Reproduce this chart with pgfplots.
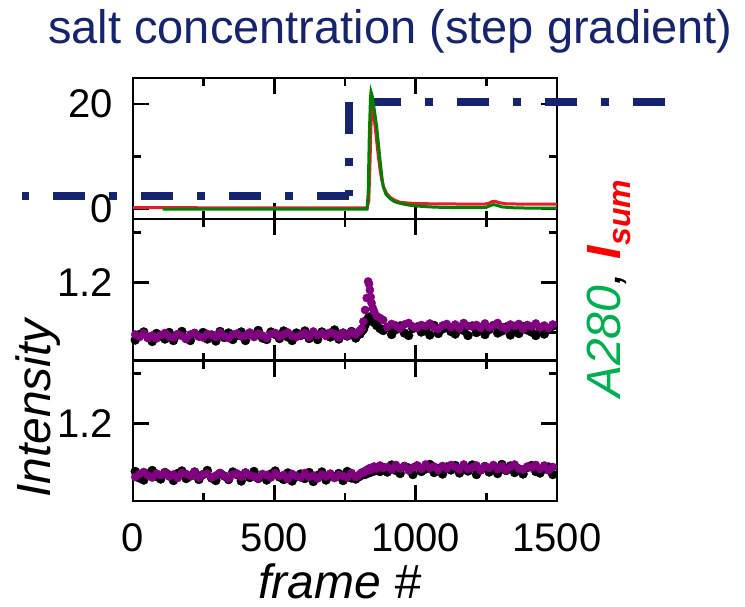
\documentclass[border=0pt]{standalone}
\usepackage{fontspec}
\setmainfont{Liberation Sans}
\usepackage{pgfplots}
\pgfplotsset{compat=1.18}
\usepackage{pgfplotstable}

\definecolor{salt}{RGB}{22,36,112}
\definecolor{sumred}{RGB}{255,0,0}
\definecolor{linered}{RGB}{228,32,38}
\definecolor{linegreen}{RGB}{0,128,0}
\definecolor{labgreen}{RGB}{0,176,80}
\definecolor{dotpurple}{RGB}{128,0,128}

% frame, panel 2 (purple, black), panel 3 (purple, black)
\pgfplotstableread{
x p2p p2b p3p p3b
8 1.096 1.085 1.093 1.104
23 1.091 1.096 1.099 1.091
38 1.098 1.101 1.103 1.087
53 1.089 1.090 1.096 1.099
68 1.094 1.082 1.092 1.106
83 1.088 1.098 1.100 1.094
98 1.095 1.093 1.097 1.089
113 1.099 1.087 1.102 1.102
128 1.092 1.100 1.094 1.097
143 1.090 1.084 1.098 1.086
158 1.097 1.095 1.091 1.100
173 1.093 1.102 1.101 1.105
188 1.087 1.088 1.099 1.090
203 1.096 1.084 1.095 1.095
218 1.099 1.098 1.103 1.103
233 1.092 1.093 1.092 1.088
248 1.090 1.100 1.098 1.098
263 1.097 1.087 1.100 1.106
278 1.095 1.095 1.092 1.091
293 1.091 1.083 1.096 1.086
308 1.100 1.102 1.101 1.100
323 1.093 1.090 1.095 1.095
338 1.089 1.099 1.090 1.088
353 1.096 1.086 1.098 1.103
368 1.098 1.094 1.100 1.098
383 1.092 1.101 1.093 1.085
398 1.094 1.084 1.102 1.101
413 1.100 1.098 1.096 1.092
428 1.091 1.093 1.094 1.104
443 1.098 1.104 1.091 1.090
458 1.094 1.089 1.099 1.096
473 1.089 1.086 1.097 1.087
488 1.097 1.101 1.092 1.099
503 1.099 1.096 1.101 1.105
518 1.092 1.088 1.095 1.093
533 1.096 1.103 1.097 1.088
548 1.100 1.091 1.089 1.101
563 1.093 1.084 1.099 1.085
578 1.091 1.099 1.095 1.094
593 1.095 1.094 1.092 1.099
608 1.099 1.103 1.101 1.090
623 1.091 1.088 1.093 1.102
638 1.102 1.098 1.096 1.084
653 1.095 1.086 1.090 1.096
668 1.098 1.101 1.098 1.103
683 1.093 1.096 1.094 1.087
698 1.100 1.091 1.100 1.097
713 1.097 1.105 1.091 1.093
728 1.090 1.087 1.097 1.100
743 1.099 1.099 1.095 1.086
758 1.094 1.093 1.092 1.104
773 1.101 1.102 1.101 1.091
788 1.096 1.089 1.093 1.089
797 1.101 1.098 1.096 1.093
803 1.104 1.097 1.099 1.095
809 1.108 1.103 1.102 1.097
815 1.122 1.106 1.101 1.099
821 1.145 1.115 1.105 1.098
827 1.169 1.122 1.107 1.103
832 1.202 1.128 1.106 1.101
835 1.197 1.130 1.110 1.104
838 1.185 1.131 1.109 1.102
841 1.171 1.130 1.111 1.106
844 1.159 1.128 1.108 1.104
848 1.149 1.124 1.112 1.107
853 1.142 1.120 1.114 1.105
862 1.133 1.114 1.110 1.110
874 1.129 1.108 1.116 1.104
885 1.125 1.104 1.111 1.112
900 1.111 1.110 1.113 1.103
915 1.117 1.096 1.108 1.117
930 1.114 1.106 1.117 1.106
945 1.108 1.113 1.110 1.100
960 1.116 1.099 1.115 1.114
975 1.119 1.094 1.106 1.111
990 1.112 1.108 1.112 1.098
1005 1.109 1.111 1.116 1.115
1020 1.115 1.101 1.109 1.104
1035 1.113 1.105 1.118 1.109
1050 1.118 1.095 1.111 1.118
1065 1.110 1.114 1.114 1.102
1080 1.107 1.098 1.107 1.110
1095 1.114 1.107 1.115 1.099
1110 1.117 1.112 1.110 1.113
1125 1.111 1.102 1.117 1.107
1140 1.116 1.097 1.113 1.116
1155 1.108 1.109 1.108 1.101
1170 1.119 1.104 1.118 1.112
1185 1.113 1.094 1.109 1.105
1200 1.112 1.113 1.112 1.117
1215 1.115 1.100 1.116 1.098
1230 1.109 1.110 1.106 1.108
1245 1.118 1.096 1.114 1.114
1260 1.110 1.106 1.111 1.103
1275 1.114 1.114 1.117 1.111
1290 1.119 1.099 1.109 1.100
1305 1.111 1.103 1.115 1.118
1320 1.108 1.111 1.107 1.106
1335 1.116 1.095 1.113 1.115
1350 1.113 1.108 1.118 1.102
1365 1.117 1.098 1.110 1.109
1380 1.107 1.112 1.108 1.099
1395 1.115 1.105 1.114 1.112
1410 1.112 1.101 1.112 1.116
1425 1.118 1.094 1.117 1.104
1440 1.110 1.109 1.109 1.101
1455 1.114 1.097 1.116 1.110
1470 1.109 1.107 1.106 1.113
1485 1.116 1.113 1.113 1.098
}\scatterdata

\pgfplotsset{
  panel/.style={
    x=0.282667pt, anchor=south west,
    xmin=0, xmax=1500,
    axis line style={line width=2.7pt},
    every tick/.style={line width=2.7pt, black},
    major tick length=16pt, minor tick length=8pt,
    tick align=inside,
    xtick={0,500,1000,1500}, minor xtick={250,750,1250},
    xticklabels={},
    tick label style={font=\fontsize{40}{48}\selectfont},
    yticklabel style={anchor=east, inner sep=0pt, xshift=-20pt},
    xticklabel style={anchor=north, inner sep=0pt, yshift=-22pt},
  },
  dotsblack/.style={only marks, mark=*, mark size=4.5pt,
    mark options={draw=black, fill=black}},
  dotspurple/.style={only marks, mark=*, mark size=4.1pt,
    mark options={draw=dotpurple, fill=dotpurple}},
  saltline/.style={salt, line width=7.7pt, line cap=butt,
    dash pattern=on 32pt off 24pt on 8pt off 24pt},
}

\begin{document}
\begin{tikzpicture}
\useasboundingbox (0pt,0pt) rectangle (745pt,-607pt);

% top: A280 and I_sum, with the salt step
\begin{axis}[panel, at={(133pt,-219pt)}, y=5.25pt,
  ymin=-1.9, ymax=24.957, ytick={0,20}, yticklabels={0,20}, minor ytick={10},
  clip=false]
\addplot[saltline] coordinates {(764,2.48) (-394,2.48)};
\addplot[saltline] coordinates {(764,20.35) (764,2.48)};
\addplot[saltline] coordinates {(1881,20.35) (764,20.35)};
\addplot[linered, line width=3pt] coordinates {
(0,0.25) (200,0.25) (400,0.2) (600,0.2) (828,0.2) (834,1.5) (838,8)
(842,16) (845,19.4) (850,18.5) (856,16) (862,13) (868,10) (874,7.5)
(880,5.5) (888,4) (897,3) (910,2.2) (925,1.7) (944,1.3) (970,1.15)
(1000,1.05) (1050,1.0) (1100,1.0) (1150,0.95) (1200,0.95) (1245,0.95)
(1258,1.1) (1270,1.4) (1282,1.45) (1296,1.2) (1320,1.0) (1360,0.95)
(1420,0.95) (1500,0.95)};
\addplot[linegreen, line width=3pt] coordinates {
(105,0) (400,0) (600,0) (828,0) (832,3) (836,14) (840,21) (842,22.3)
(846,21.6) (850,20.2) (856,18) (862,15.7) (868,12.5) (874,9.3) (880,6.3)
(885,4.3) (895,2.8) (909,2.0) (925,1.4) (944,1.1) (970,0.8) (998,0.6)
(1050,0.4) (1100,0.3) (1200,0.25) (1248,0.3) (1262,0.6) (1275,0.85)
(1288,0.7) (1305,0.4) (1340,0.25) (1420,0.15) (1500,0.15)};
\end{axis}

% middle
\begin{axis}[panel, at={(133pt,-360.5pt)}, y=500pt,
  ymin=1.044, ymax=1.327, ytick={1.2}, yticklabels={1.2},
  minor ytick={1.1,1.3}]
\addplot[dotsblack] table[x=x, y=p2b] {\scatterdata};
\addplot[dotspurple] table[x=x, y=p2p] {\scatterdata};
\end{axis}

% bottom
\begin{axis}[panel, at={(133pt,-501pt)}, y=500pt,
  ymin=1.045, ymax=1.326, ytick={1.2}, yticklabels={1.2},
  minor ytick={1.1,1.3}, xticklabels={0,500,1000,1500}]
\addplot[dotsblack] table[x=x, y=p3b] {\scatterdata};
\addplot[dotspurple] table[x=x, y=p3p] {\scatterdata};
\end{axis}

\node[anchor=base west, inner sep=0pt, text=salt,
  font=\fontsize{47}{56}\selectfont] at (48pt,-43.3pt)
  {salt concentration (step gradient)};
\node[anchor=base, inner sep=0pt, font=\fontsize{48}{56}\selectfont\itshape]
  at (340pt,-598pt) {frame \#};
\node[rotate=90, anchor=base west, inner sep=0pt,
  font=\fontsize{48}{56}\selectfont\itshape] at (50pt,-498pt) {Intensity};
\node[rotate=90, anchor=base west, inner sep=0pt,
  font=\fontsize{48}{56}\selectfont\itshape] at (620pt,-398pt)
  {\textcolor{labgreen}{A280}, \textcolor{sumred}{\bfseries I\raisebox{-10pt}{\fontsize{32}{36}\selectfont sum}}};
\end{tikzpicture}
\end{document}
